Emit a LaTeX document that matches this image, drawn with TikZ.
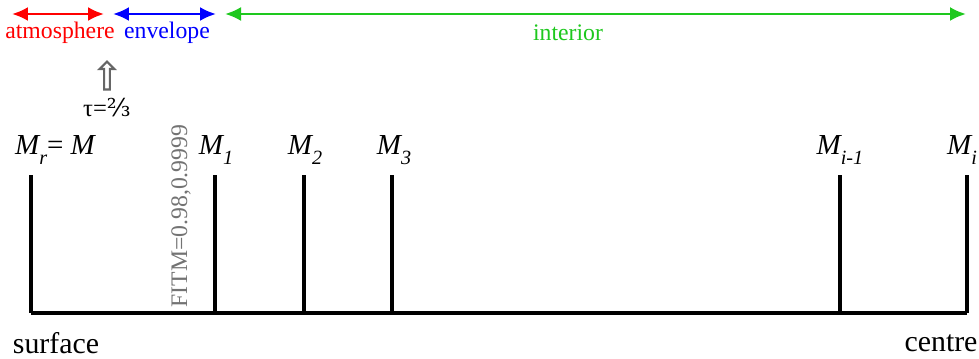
\documentclass[tikz,border=0pt]{standalone}
\usepackage{fontspec}
\setmainfont{Liberation Serif}
\newfontfamily\fracfont{DejaVu Serif}
\usepackage{xcolor}
\usetikzlibrary{arrows.meta, positioning, shapes.arrows}
\definecolor{atmred}{RGB}{255,0,0}
\definecolor{envblue}{RGB}{0,0,255}
\definecolor{intgreen}{RGB}{30,200,30}
\newcommand{\shellsub}[1]{\raisebox{-5.5pt}{\fontsize{11.5}{12}\selectfont #1}}
\tikzset{
  % Region arrows
  region/.style={{Latex[length=3.2mm,width=2.8mm]}-{Latex[length=3.2mm,width=2.8mm]}, line width=1.4pt, #1},
  regionlabel/.style={font=\fontsize{13.5}{15}\selectfont, text=#1},
  % Mass shells
  shell/.style={line width=2pt, black},
  masslabel/.style={font=\fontsize{16.5}{18}\selectfont\itshape, inner sep=0pt},
  endlabel/.style={font=\fontsize{17}{19}\selectfont, inner sep=0pt},
}

\begin{document}
\begin{tikzpicture}[x=0.02cm, y=-0.02cm]
    \useasboundingbox (0,0) rectangle (979,358);

    % Regions
    \coordinate (atmL) at (12,14);  \coordinate (atmR) at (104,14);
    \coordinate (envL) at (113,14); \coordinate (envR) at (216,14);
    \coordinate (intL) at (225,14); \coordinate (intR) at (966,14);
    \draw[region=atmred] (atmL) -- (atmR);
    \draw[region=envblue] (envL) -- (envR);
    \draw[region=intgreen] (intL) -- (intR);
    \node[regionlabel=atmred] (atm) at (60,33) {atmosphere};
    \node[regionlabel=envblue] (env) at (167,33) {envelope};
    \node[regionlabel=intgreen] (int) at (568,33) {interior};

    % Photosphere marker
    \node[single arrow, draw=black!60, fill=white, line width=1.2pt, shape border rotate=90,
          minimum height=0.56cm, minimum width=0.3cm, single arrow head extend=0.06cm,
          inner sep=0.5pt] (tau) at (107,77) {};
    \node[font=\fontsize{14}{15}\selectfont, below=1pt of tau] (taulabel) {τ={\fracfont ⅔}};

    % Shells
    \foreach \n/\x in {0/31, 1/215, 2/304, 3/392, 4/840, 5/967} {
      \coordinate (t\n) at (\x,175);
      \coordinate (b\n) at (\x,313);
      \draw[shell] (t\n) -- (b\n);
    }
    \draw[shell] (b0) -- (b5);

    \node[masslabel] (mr) at (55,150) {M\shellsub{r}\upshape{}= \itshape M};
    \node[masslabel] (m1) at (216,150) {M\shellsub{1}};
    \node[masslabel] (m2) at (305,150) {M\shellsub{2}};
    \node[masslabel] (m3) at (394,150) {M\shellsub{3}};
    \node[masslabel] (mi1) at (840,150) {M\shellsub{i-1}};
    \node[masslabel] (mi) at (962,150) {M\shellsub{i}};

    % Fitting point
    \node[rotate=90, font=\fontsize{13.5}{15}\selectfont, text=black!55, inner sep=0pt] (fitm) at (181,216) {FITM=0.98,0.9999};

    \node[endlabel] (surf) at (56,343) {surface};
    \node[endlabel] (cent) at (941,343) {centre};
\end{tikzpicture}
\end{document}
